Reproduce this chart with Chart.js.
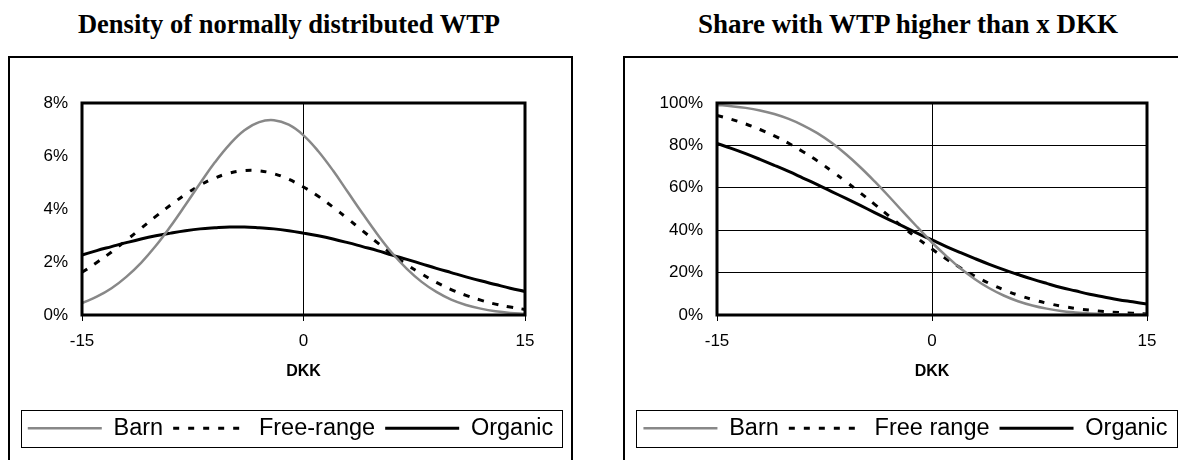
<!DOCTYPE html>
<html>
<head>
<meta charset="utf-8">
<script src="https://cdn.jsdelivr.net/npm/chart.js@4.4.1/dist/chart.umd.min.js"></script>
<style>
    html, body { margin: 0; padding: 0; background: #fff; width: 1178px; height: 460px; overflow: hidden; }
    .title { position: absolute; top: 9px; width: 600px; text-align: center; line-height: 30px;
             font: bold 26.5px "Liberation Serif", "Times New Roman", serif; color: #000; white-space: nowrap; }
    .frame { position: absolute; top: 56px; width: 561px; height: 420px; border: 2px solid #000; border-bottom: none; }
    .frame canvas { position: absolute; left: 0; top: 0; }
</style>
</head>
<body>
<div class="title" style="left:-11px">Density of normally distributed WTP</div>
<div class="title" style="left:608px; font-size:27px">Share with WTP higher than x DKK</div>
<div class="frame" style="left:8px"><canvas id="densityChart" width="561" height="402"></canvas></div>
<div class="frame" style="left:623px"><canvas id="shareChart" width="561" height="402"></canvas></div>

<script>
// DATA
const xValues = [-15, -14, -13, -12, -11, -10, -9, -8, -7, -6, -5, -4, -3, -2, -1, 0,
                 1, 2, 3, 4, 5, 6, 7, 8, 9, 10, 11, 12, 13, 14, 15];
const xTicks = [-15, 0, 15];

// density in %
const barnDensity = [0.45, 0.69, 1.01, 1.44, 1.97, 2.61, 3.35, 4.15, 4.97, 5.76, 6.44, 6.97, 7.28, 7.35, 7.18, 6.78,
                     6.18, 5.45, 4.64, 3.83, 3.05, 2.34, 1.74, 1.25, 0.87, 0.58, 0.38, 0.24, 0.14, 0.08, 0.05];
const freeDensity = [1.61, 1.98, 2.38, 2.82, 3.27, 3.72, 4.15, 4.55, 4.90, 5.17, 5.36, 5.45, 5.44, 5.33, 5.12, 4.83,
                     4.48, 4.07, 3.63, 3.18, 2.73, 2.30, 1.90, 1.55, 1.23, 0.96, 0.74, 0.56, 0.41, 0.30, 0.21];
const organicDensity = [2.26, 2.43, 2.58, 2.73, 2.87, 2.99, 3.09, 3.18, 3.25, 3.29, 3.32, 3.32, 3.29, 3.25, 3.18, 3.09,
                        2.99, 2.87, 2.73, 2.58, 2.43, 2.26, 2.10, 1.93, 1.76, 1.60, 1.44, 1.29, 1.15, 1.01, 0.89];
const densityTicks = [0, 2, 4, 6, 8];

// share with WTP above x, in %
const barnShare = [99.1, 98.5, 97.7, 96.5, 94.8, 92.5, 89.5, 85.8, 81.2, 75.8, 69.7, 63.0, 55.9, 48.5, 41.3, 34.2,
                   27.8, 21.9, 16.9, 12.6, 9.2, 6.5, 4.5, 3.0, 1.9, 1.2, 0.7, 0.4, 0.3, 0.1, 0.1];
const freeShare = [94.1, 92.3, 90.1, 87.5, 84.5, 81.0, 77.0, 72.7, 67.9, 62.9, 57.6, 52.2, 46.7, 41.3, 36.1, 31.1,
                   26.4, 22.2, 18.3, 14.9, 11.9, 9.4, 7.3, 5.6, 4.2, 3.1, 2.3, 1.6, 1.2, 0.8, 0.5];
const organicShare = [80.9, 78.6, 76.1, 73.4, 70.6, 67.7, 64.6, 61.5, 58.2, 55.0, 51.7, 48.3, 45.0, 41.8, 38.5, 35.4,
                      32.3, 29.4, 26.6, 23.9, 21.4, 19.1, 16.9, 14.9, 13.0, 11.4, 9.8, 8.5, 7.2, 6.2, 5.2];
const shareTicks = [0, 20, 40, 60, 80, 100];

Chart.defaults.font.family = "'Liberation Sans', Arial, sans-serif";
Chart.defaults.color = '#000';

// thick frame round the plot area
const plotBorder = {
    id: 'plotBorder',
    afterDraw(chart) {
        const {ctx, chartArea: a} = chart;
        ctx.save();
        ctx.strokeStyle = '#000';
        ctx.lineWidth = 3;
        ctx.strokeRect(a.left, a.top, a.right - a.left, a.bottom - a.top);
        ctx.restore();
    }
};

// thin box round the legend items
const legendBox = {
    id: 'legendBox',
    afterDraw(chart) {
        const boxes = chart.legend.legendHitBoxes;
        if (!boxes.length) return;
        const first = boxes[0], last = boxes[boxes.length - 1];
        const x0 = Math.round(first.left - 7) + 0.5;
        const x1 = Math.round(last.left + last.width + 9) + 0.5;
        const y0 = Math.round(first.top + first.height / 2 - 18.5) + 0.5;
        const ctx = chart.ctx;
        ctx.save();
        ctx.strokeStyle = '#000';
        ctx.lineWidth = 1;
        ctx.strokeRect(x0, y0, x1 - x0, 37);
        ctx.restore();
    }
};

function series(values) {
    return values.map((v, i) => ({x: xValues[i], y: v}));
}

function makeChart(id, labels, data, yTicks, yAxisWidth, rightGap, hGrid) {
    const styles = [
        {borderColor: '#888', borderWidth: 2.5, borderDash: []},
        {borderColor: '#000', borderWidth: 3, borderDash: [6, 9]},
        {borderColor: '#000', borderWidth: 3, borderDash: []}
    ];
    return new Chart(document.getElementById(id), {
        type: 'line',
        data: {
            datasets: labels.map((label, i) => ({
                label: label,
                data: series(data[i]),
                borderColor: styles[i].borderColor,
                borderWidth: styles[i].borderWidth,
                borderDash: styles[i].borderDash,
                backgroundColor: 'transparent',
                pointRadius: 0,
                tension: 0.4,
                fill: false
            }))
        },
        options: {
            responsive: false,
            animation: false,
            layout: {padding: {top: 45, right: 0, bottom: 10, left: 0}},
            plugins: {
                tooltip: {enabled: false},
                legend: {
                    position: 'bottom',
                    labels: {
                        usePointStyle: true,
                        pointStyleWidth: 74,
                        padding: 10,
                        color: '#000',
                        font: {size: 23.5},
                        generateLabels: chart => chart.data.datasets.map((ds, i) => ({
                            text: ds.label,
                            datasetIndex: i,
                            hidden: false,
                            fontColor: '#000',
                            fillStyle: 'transparent',
                            strokeStyle: ds.borderColor,
                            lineWidth: ds.borderWidth,
                            lineDash: ds.borderDash,
                            pointStyle: 'line'
                        }))
                    }
                }
            },
            scales: {
                x: {
                    type: 'linear',
                    min: xTicks[0],
                    max: xTicks[xTicks.length - 1],
                    afterBuildTicks: axis => { axis.ticks = xTicks.map(v => ({value: v})); },
                    afterFit: axis => { axis.height = 91.5; },
                    border: {display: false},
                    grid: {color: '#000', lineWidth: 1, tickLength: 6, tickColor: '#000'},
                    ticks: {padding: 10, maxRotation: 0, font: {size: 17}},
                    title: {display: true, text: 'DKK', font: {size: 16, weight: 'bold'},
                            padding: {top: 0, bottom: 24.9}}
                },
                y: {
                    min: yTicks[0],
                    max: yTicks[yTicks.length - 1],
                    afterBuildTicks: axis => { axis.ticks = yTicks.map(v => ({value: v})); },
                    afterFit: axis => { axis.width = yAxisWidth; },
                    border: {display: false},
                    grid: {display: hGrid, color: '#000', lineWidth: 1, drawTicks: false},
                    ticks: {padding: 14, font: {size: 17}, callback: v => v + '%'}
                },
                // empty right axis, only keeps the gap right of the plot
                gap: {
                    type: 'linear',
                    position: 'right',
                    afterFit: axis => { axis.width = rightGap; },
                    border: {display: false},
                    grid: {display: false},
                    ticks: {display: false}
                }
            }
        },
        plugins: [plotBorder, legendBox]
    });
}

const densityChart = makeChart('densityChart', ['Barn', 'Free-range', 'Organic'],
    [barnDensity, freeDensity, organicDensity], densityTicks, 72, 46, false);

const shareChart = makeChart('shareChart', ['Barn', 'Free range', 'Organic'],
    [barnShare, freeShare, organicShare], shareTicks, 92, 39, true);
</script>
</body>
</html>
